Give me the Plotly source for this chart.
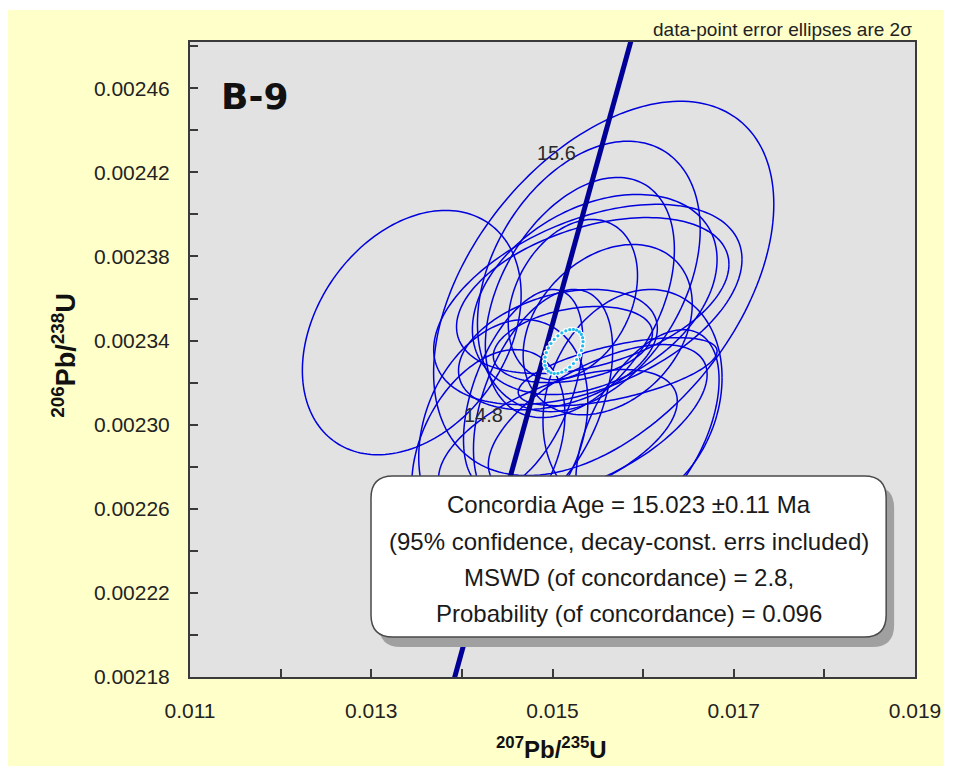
import numpy as np
import plotly.graph_objects as go

# analyses: 207Pb/235U, 2s abs, 206Pb/238U, 2s abs, error correlation
pb207_u235 = [0.013447, 0.015565, 0.015401, 0.015302, 0.015466, 0.015444, 0.015390,
              0.015225, 0.015225, 0.015719, 0.016048, 0.014292, 0.014457, 0.015060,
              0.015499, 0.014896, 0.014676, 0.015883, 0.015060, 0.015609]
pb207_u235_err = [0.001207, 0.001877, 0.001229, 0.001043, 0.001350, 0.001503, 0.001701,
                  0.000713, 0.000878, 0.001097, 0.000790, 0.000845, 0.000933, 0.001317,
                  0.001207, 0.000768, 0.000658, 0.000988, 0.001097, 0.000933]
pb206_u238 = [0.0023438, 0.0023648, 0.0023705, 0.0023605, 0.0023619, 0.0023614, 0.0023572,
              0.0023595, 0.0023381, 0.0023252, 0.0022976, 0.0022881, 0.0022976, 0.0022929,
              0.0023024, 0.0023119, 0.0023167, 0.0023119, 0.0023357, 0.0023452]
pb206_u238_err = [0.0000581, 0.0000890, 0.0000643, 0.0000571, 0.0000476, 0.0000371, 0.0000476,
                  0.0000381, 0.0000181, 0.0000162, 0.0000476, 0.0000476, 0.0000524, 0.0000333,
                  0.0000357, 0.0000524, 0.0000476, 0.0000524, 0.0000286, 0.0000405]
err_rho = [0.31, 0.45, 0.35, 0.40, 0.35, 0.40, 0.45, 0.30, 0.30, 0.60, 0.50, 0.35, 0.25,
           0.55, 0.60, 0.45, 0.50, 0.20, 0.35, 0.30]

# concordia age ellipse
conc_x, conc_x_err = 0.015125, 0.000212
conc_y, conc_y_err = 0.0023348, 0.0000105
conc_rho = 0.45

# concordia curve (age in Ma)
concordia_age = [14.0, 14.4, 14.8, 15.2, 15.6, 16.0]
concordia_x = [0.0138834, 0.0142829, 0.0146825, 0.0150823, 0.0154823, 0.0158824]
concordia_y = [0.0021741, 0.0022363, 0.0022985, 0.0023607, 0.0024229, 0.0024851]
age_labels = ["15.6", "14.8"]

x_ticks = [0.011, 0.012, 0.013, 0.014, 0.015, 0.016, 0.017, 0.018, 0.019]
x_ticktext = ["0.011", "", "0.013", "", "0.015", "", "0.017", "", "0.019"]
y_ticks = [0.00218, 0.00220, 0.00222, 0.00224, 0.00226, 0.00228, 0.00230, 0.00232,
           0.00234, 0.00236, 0.00238, 0.00240, 0.00242, 0.00244, 0.00246, 0.00248]
y_ticktext = ["0.00218", "", "0.00222", "", "0.00226", "", "0.00230", "", "0.00234", "",
              "0.00238", "", "0.00242", "", "0.00246", ""]

box_lines = [
    "Concordia Age = 15.023 ±0.11 Ma",
    "(95% confidence, decay-const. errs included)",
    "MSWD (of concordance) = 2.8,",
    "Probability (of concordance) = 0.096",
]


def ellipse(x0, sx, y0, sy, r, n=181, closed=True):
    t = np.linspace(0, 2 * np.pi, n, endpoint=closed)
    ex = x0 + sx * np.cos(t)
    ey = y0 + sy * (r * np.cos(t) + np.sqrt(1 - r * r) * np.sin(t))
    return ex, ey


fig = go.Figure()

for x0, sx, y0, sy, r in zip(pb207_u235, pb207_u235_err, pb206_u238, pb206_u238_err, err_rho):
    ex, ey = ellipse(x0, sx, y0, sy, r)
    fig.add_trace(go.Scatter(x=ex, y=ey, mode="lines",
                             line=dict(color="#0000DD", width=1.5, simplify=False),
                             hoverinfo="skip"))

fig.add_trace(go.Scatter(x=concordia_x, y=concordia_y, mode="lines",
                         line=dict(color="#000099", width=5), hoverinfo="skip"))

# concordia age ellipse drawn as a ring of small cyan dots with a white halo
ex, ey = ellipse(conc_x, conc_x_err, conc_y, conc_y_err, conc_rho, n=30, closed=False)
fig.add_trace(go.Scatter(x=ex, y=ey, mode="markers",
                         marker=dict(color="white", size=5.5, line=dict(width=0)),
                         hoverinfo="skip"))
fig.add_trace(go.Scatter(x=ex, y=ey, mode="markers",
                         marker=dict(color="#22BBF0", size=3.2, line=dict(width=0)),
                         hoverinfo="skip"))

for lab in age_labels:
    i = concordia_age.index(float(lab))
    fig.add_annotation(x=concordia_x[i], y=concordia_y[i], text=lab, showarrow=False,
                       xshift=-40, yshift=13,
                       font=dict(family="Liberation Sans", size=20, color="#2A2A2A"))

# page layout: the page body adds an 8px margin, positions below are page pixels
OFF = 8
FW, FH = 945, 761
L, T, W, H = 182.0, 34.0, 729.0, 635.0


def px(xp):
    return (xp - OFF - L) / W


def py(yp):
    return (T + H - (yp - OFF)) / H


def rounded(x0, y0, x1, y1, rad):
    rx, ry = rad / W, rad / H
    a, b, c, d = px(x0), py(y1), px(x1), py(y0)
    return (f"M {a+rx},{b} L {c-rx},{b} Q {c},{b} {c},{b+ry} L {c},{d-ry} "
            f"Q {c},{d} {c-rx},{d} L {a+rx},{d} Q {a},{d} {a},{d-ry} "
            f"L {a},{b+ry} Q {a},{b} {a+rx},{b} Z")


fig.add_shape(type="path", xref="paper", yref="paper", layer="above",
              path=rounded(380, 486, 898, 647, 22),
              fillcolor="#A0A0A0", line=dict(width=0))
fig.add_shape(type="path", xref="paper", yref="paper", layer="above",
              path=rounded(372, 476, 890, 637, 22),
              fillcolor="white", line=dict(color="#4A4A4A", width=1.5))

for txt, yp in zip(box_lines, [504, 541, 577, 613]):
    fig.add_annotation(xref="paper", yref="paper", x=px(631), y=py(yp), text=txt,
                       showarrow=False, xanchor="center", yanchor="middle",
                       font=dict(family="Liberation Sans", size=24, color="#1A1A1A"))

fig.add_annotation(xref="paper", yref="paper", x=px(219), y=py(97), text="<b>B-9</b>",
                   showarrow=False, xanchor="left", yanchor="middle",
                   font=dict(family="DejaVu Sans", size=36, color="#111111"))
fig.add_annotation(xref="paper", yref="paper", x=px(918), y=py(30),
                   text="data-point error ellipses are 2σ", showarrow=False,
                   xanchor="right", yanchor="middle",
                   font=dict(family="Liberation Sans", size=19, color="#222222"))
fig.add_annotation(xref="paper", yref="paper", x=px(63), y=py(355),
                   text="<b><sup>206</sup>Pb/<sup>238</sup>U</b>", showarrow=False, textangle=-90,
                   xanchor="center", yanchor="middle",
                   font=dict(family="Liberation Sans", size=27, color="#111111"))
fig.add_annotation(xref="paper", yref="paper", x=px(553), y=py(748),
                   text="<b><sup>207</sup>Pb/<sup>235</sup>U</b>", showarrow=False,
                   xanchor="center", yanchor="middle",
                   font=dict(family="Liberation Sans", size=24, color="#111111"))

# white page edges around the yellow panel
for x0, y0, x1, y1 in [(0, 0, 953, 10), (948, 0, 953, 769), (0, 766, 953, 769)]:
    fig.add_shape(type="rect", xref="paper", yref="paper", layer="above",
                  x0=px(x0), x1=px(x1), y0=py(y1), y1=py(y0),
                  fillcolor="white", line=dict(width=0))

axis_common = dict(showgrid=False, zeroline=False, showline=True, mirror=True,
                   linecolor="#3A3A3A", linewidth=2, ticks="inside", ticklen=8,
                   tickcolor="#3A3A3A", tickwidth=1.5,
                   tickfont=dict(family="Liberation Sans", size=21, color="#222222"))

fig.update_xaxes(range=[0.011, 0.019], tickmode="array", tickvals=x_ticks,
                 ticktext=x_ticktext, ticklabelstandoff=14, **axis_common)
fig.update_yaxes(range=[0.00218, 0.002482], tickmode="array", tickvals=y_ticks,
                 ticktext=y_ticktext, ticklabelstandoff=14, **axis_common)

fig.update_layout(
    width=FW, height=FH,
    margin=dict(l=L, r=FW - L - W, t=T, b=FH - T - H),
    paper_bgcolor="#FFFFC9",
    plot_bgcolor="#E2E2E2",
    showlegend=False,
)

fig.write_html("out.html")
